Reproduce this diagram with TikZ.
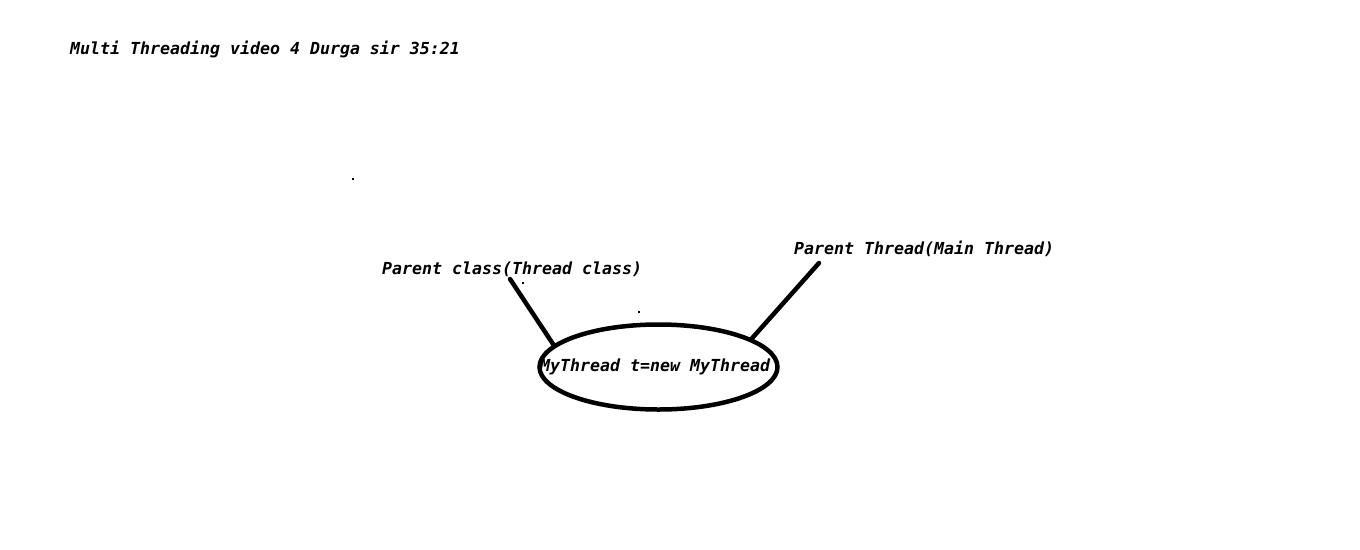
\documentclass[tikz,border=0pt]{standalone}
\usepackage{fontspec}
\setmonofont{DejaVu Sans Mono}
\usetikzlibrary{shapes.geometric}
\tikzset{
  lbl/.style={inner sep=0pt, anchor=base west, font=\ttfamily\bfseries\itshape\fontsize{16.6}{20}\selectfont},
  conn/.style={line width=4.5pt, line cap=round},
  speck/.style={fill=black, inner sep=0pt, minimum size=1.6pt, rectangle}
}
\begin{document}
\begin{tikzpicture}[x=1pt, y=-1pt]
\useasboundingbox[fill=white] (0,0) rectangle (1360,549);
\node[lbl] (title) at (70,54) {Multi Threading video 4 Durga sir 35:21};
\node[lbl] (pc) at (382,274) {Parent class(Thread class)};
\node[lbl] (pt) at (794,254) {Parent Thread(Main Thread)};
\node[ellipse, draw, line width=4.5pt, inner sep=0pt, minimum width=238pt, minimum height=85pt] (obj) at (658.5,367) {};
\node[lbl] (objtxt) at (540,371) {MyThread t=new MyThread};
\coordinate (pcend) at (510,279);
\coordinate (ptend) at (819,263);
\draw[conn] (pcend) -- (obj.168.5);
\draw[conn] (ptend) -- (obj.17.6);
\node[speck] (s1) at (353,179) {};
\node[speck] (s2) at (523,283) {};
\node[speck] (s3) at (639,312) {};
\end{tikzpicture}
\end{document}
